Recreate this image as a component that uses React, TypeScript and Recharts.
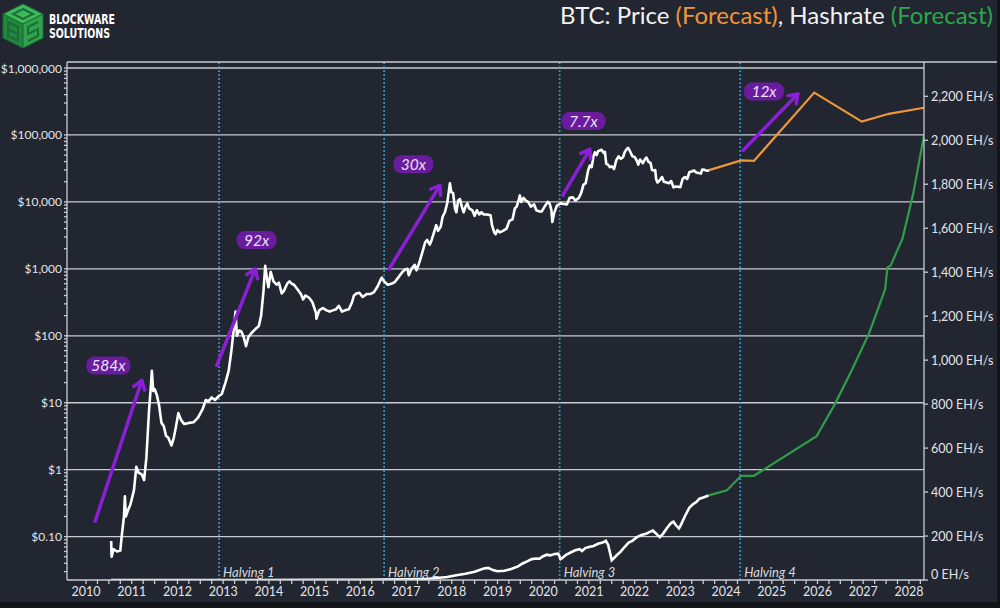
import React from "react";
import {
  ComposedChart,
  Line,
  XAxis,
  YAxis,
  ReferenceLine,
  ReferenceDot,
} from "recharts";

// BTC price history (year, USD)
const priceHistory: [number, number][] = [
  [2010.55, 0.086], [2010.56, 0.05], [2010.6, 0.065], [2010.68, 0.06], [2010.75, 0.062],
  [2010.78, 0.1], [2010.83, 0.2], [2010.85, 0.4], [2010.87, 0.2], [2010.92, 0.25],
  [2010.97, 0.3], [2011.05, 0.5], [2011.1, 1.1], [2011.15, 0.9], [2011.22, 0.85],
  [2011.27, 0.7], [2011.32, 1.5], [2011.38, 8], [2011.42, 18], [2011.44, 30],
  [2011.47, 15], [2011.5, 16], [2011.55, 13], [2011.6, 9], [2011.65, 5],
  [2011.7, 4.5], [2011.75, 3.2], [2011.8, 3], [2011.87, 2.3], [2011.92, 3],
  [2011.97, 4.5], [2012.02, 7], [2012.08, 5.5], [2012.15, 4.8], [2012.25, 5],
  [2012.35, 5.1], [2012.45, 6], [2012.55, 8], [2012.62, 11], [2012.68, 10.5],
  [2012.75, 12], [2012.82, 11], [2012.9, 12.5], [2012.97, 13.5], [2013.05, 20],
  [2013.12, 30], [2013.18, 60], [2013.24, 140], [2013.27, 230], [2013.3, 100],
  [2013.35, 120], [2013.4, 115], [2013.45, 95], [2013.5, 70], [2013.55, 95],
  [2013.62, 110], [2013.7, 125], [2013.78, 140], [2013.83, 200], [2013.88, 450],
  [2013.92, 1110], [2013.96, 700], [2013.99, 530], [2014.04, 900], [2014.1, 650],
  [2014.17, 580], [2014.22, 620], [2014.28, 430], [2014.33, 470], [2014.4, 600],
  [2014.45, 650], [2014.5, 600], [2014.55, 580], [2014.62, 500], [2014.7, 420],
  [2014.75, 350], [2014.8, 400], [2014.88, 370], [2014.95, 320], [2015.03, 220],
  [2015.04, 180], [2015.1, 240], [2015.18, 260], [2015.26, 240], [2015.33, 230],
  [2015.4, 240], [2015.47, 250], [2015.53, 280], [2015.6, 230], [2015.67, 240],
  [2015.75, 250], [2015.82, 320], [2015.86, 400], [2015.92, 430], [2015.98, 440],
  [2016.05, 380], [2016.14, 420], [2016.22, 420], [2016.3, 450], [2016.38, 550],
  [2016.45, 700], [2016.47, 740], [2016.52, 650], [2016.6, 580], [2016.68, 600],
  [2016.75, 630], [2016.83, 740], [2016.92, 900], [2016.98, 980], [2017.03, 1000],
  [2017.06, 800], [2017.12, 1000], [2017.19, 1150], [2017.23, 950], [2017.3, 1300],
  [2017.36, 1800], [2017.42, 2500], [2017.46, 2700], [2017.52, 2300], [2017.56, 2700],
  [2017.6, 3300], [2017.66, 4500], [2017.7, 3700], [2017.76, 4300], [2017.8, 6000],
  [2017.85, 7000], [2017.9, 9500], [2017.94, 15000], [2017.96, 19000], [2017.99, 14000],
  [2018.03, 13500], [2018.07, 8000], [2018.1, 7000], [2018.14, 10500], [2018.18, 11000],
  [2018.22, 8500], [2018.26, 7000], [2018.3, 8500], [2018.34, 9500], [2018.38, 8000],
  [2018.45, 7500], [2018.5, 6200], [2018.55, 7500], [2018.6, 6500], [2018.65, 7000],
  [2018.7, 6500], [2018.77, 6500], [2018.85, 6300], [2018.88, 4500], [2018.93, 3500],
  [2018.96, 3300], [2019.0, 3800], [2019.05, 3500], [2019.12, 3700], [2019.2, 4000],
  [2019.26, 5200], [2019.33, 5500], [2019.38, 8000], [2019.42, 8500], [2019.47, 11000],
  [2019.49, 12500], [2019.52, 10000], [2019.57, 11500], [2019.62, 10500], [2019.67, 10000],
  [2019.73, 8500], [2019.8, 9200], [2019.85, 7500], [2019.92, 7200], [2019.97, 7200],
  [2020.03, 8500], [2020.1, 10000], [2020.14, 9500], [2020.18, 7500], [2020.2, 5000],
  [2020.24, 6800], [2020.3, 8800], [2020.38, 9500], [2020.45, 9300], [2020.52, 9200],
  [2020.58, 11500], [2020.65, 11700], [2020.7, 10500], [2020.78, 11500], [2020.83, 13500],
  [2020.88, 18000], [2020.93, 19000], [2020.98, 29000], [2021.02, 35000], [2021.06, 33000],
  [2021.1, 48000], [2021.13, 55000], [2021.17, 50000], [2021.2, 57000], [2021.28, 60000],
  [2021.32, 54000], [2021.35, 56000], [2021.38, 37000], [2021.42, 36000], [2021.46, 33000],
  [2021.5, 34000], [2021.55, 31000], [2021.6, 42000], [2021.65, 48000], [2021.7, 44000],
  [2021.75, 47000], [2021.78, 55000], [2021.83, 62000], [2021.86, 64000], [2021.9, 57000],
  [2021.95, 48000], [2022.0, 47000], [2022.05, 41000], [2022.08, 36000], [2022.12, 43000],
  [2022.18, 38000], [2022.23, 44000], [2022.26, 46000], [2022.3, 40000], [2022.35, 38000],
  [2022.38, 30000], [2022.42, 29500], [2022.45, 30000], [2022.47, 22000], [2022.5, 19500],
  [2022.55, 21000], [2022.6, 23500], [2022.64, 20000], [2022.7, 19500], [2022.75, 19000],
  [2022.8, 20500], [2022.85, 16500], [2022.9, 17000], [2022.95, 16800], [2023.0, 16600],
  [2023.05, 22000], [2023.1, 23500], [2023.15, 22000], [2023.2, 28000], [2023.25, 28500],
  [2023.3, 29500], [2023.35, 27500], [2023.4, 27000], [2023.45, 26500], [2023.48, 30500],
  [2023.52, 30300], [2023.56, 29500], [2023.6, 29200], [2023.63, 29800],
];

const priceForecast: [number, number][] = [
  [2023.63, 29800], [2024.33, 41600], [2024.61, 41000], [2025.93, 430000],
  [2026.97, 158500], [2027.56, 207000], [2028.33, 255000],
];

// Hashrate history (year, EH/s)
const hashHistory: [number, number][] = [
  [2010.55, 0], [2013.0, 0.02], [2015.0, 0.35], [2016.0, 0.8], [2016.5, 1.5],
  [2017.0, 2.8], [2017.5, 6], [2017.9, 14], [2018.1, 22], [2018.3, 28],
  [2018.5, 38], [2018.7, 52], [2018.8, 55], [2018.9, 45], [2019.0, 40],
  [2019.15, 42], [2019.3, 50], [2019.45, 62], [2019.55, 75], [2019.65, 85],
  [2019.75, 95], [2019.85, 98], [2019.92, 97], [2020.0, 108], [2020.08, 115],
  [2020.15, 112], [2020.25, 118], [2020.33, 120], [2020.38, 95], [2020.42, 100],
  [2020.5, 115], [2020.6, 125], [2020.7, 135], [2020.8, 140], [2020.85, 132],
  [2020.92, 145], [2021.0, 150], [2021.1, 155], [2021.2, 165], [2021.3, 170],
  [2021.37, 178], [2021.42, 160], [2021.5, 90], [2021.55, 100], [2021.62, 115],
  [2021.7, 130], [2021.78, 150], [2021.87, 170], [2021.95, 178], [2022.05, 195],
  [2022.15, 205], [2022.25, 210], [2022.32, 218], [2022.4, 225], [2022.45, 215],
  [2022.5, 205], [2022.55, 195], [2022.62, 210], [2022.72, 240], [2022.8, 260],
  [2022.85, 265], [2022.9, 250], [2022.97, 235], [2023.0, 245], [2023.1, 290],
  [2023.2, 330], [2023.28, 345], [2023.35, 355], [2023.42, 370], [2023.5, 375],
  [2023.56, 380], [2023.62, 385],
];

const hashForecast: [number, number][] = [
  [2023.62, 385], [2024.02, 408], [2024.33, 474], [2024.61, 474], [2025.98, 654],
  [2026.38, 800], [2026.75, 954], [2027.13, 1123], [2027.48, 1322], [2027.53, 1422],
  [2027.6, 1430], [2027.86, 1553], [2028.09, 1753], [2028.33, 2022],
];

const halvingYears = [2012.91, 2016.52, 2020.36, 2024.31];
const halvingLabels = ["Halving 1", "Halving 2", "Halving 3", "Halving 4"];

// cycle run-up annotations
const moveLabels = ["584x", "92x", "30x", "7.7x", "12x"];
const moveFrom: [number, number][] = [
  [2010.2, 0.17], [2012.86, 36], [2016.63, 994], [2020.43, 12600], [2024.37, 58700],
];
const moveTo: [number, number][] = [
  [2011.22, 21.5], [2013.7, 994], [2017.74, 17700], [2021.02, 61000], [2025.57, 410000],
];
const moveLabelAt: [number, number][] = [
  [2010.49, 36], [2013.73, 2690], [2017.16, 36500], [2020.88, 161000], [2024.83, 445000],
];

const yearTicks = [
  2010, 2011, 2012, 2013, 2014, 2015, 2016, 2017, 2018, 2019,
  2020, 2021, 2022, 2023, 2024, 2025, 2026, 2027, 2028,
];
const priceTicks = [0.1, 1, 10, 100, 1000, 10000, 100000, 1000000];
const hashTicks = [0, 200, 400, 600, 800, 1000, 1200, 1400, 1600, 1800, 2000, 2200];

const X_DOMAIN = [2009.584, 2028.33];
const PRICE_DOMAIN = [0.0225, 1230000];
const HASH_DOMAIN = [0, 2356];

const BG = "#222630";
const AXIS = "#c9ccd2";
const TICK_TEXT = "#e2e4e8";
const PURPLE = "#8b1fd8";
const FONT = "Lato, 'Noto Sans', sans-serif";

const toRows = (pts: [number, number][]) => pts.map(([x, v]) => ({ x, v }));

// minor log ticks / quarter ticks (unlabelled)
const priceMinor: number[] = [];
[0.01, 0.1, 1, 10, 100, 1000, 10000, 100000].forEach((d) => {
  for (let m = 2; m <= 9; m++) {
    const v = d * m;
    if (v > PRICE_DOMAIN[0] && v < PRICE_DOMAIN[1]) priceMinor.push(v);
  }
});
const yearMinor: number[] = [];
yearTicks.forEach((y) => {
  [0.25, 0.5, 0.75].forEach((q) => {
    if (y + q < X_DOMAIN[1]) yearMinor.push(y + q);
  });
});

const fmtPrice = (v: number) =>
  v < 1 ? `$${v.toFixed(2)}` : `$${Math.round(v).toLocaleString("en-US")}`;

const PriceTick = (props: any) => {
  const { x, y, payload } = props;
  if (!priceTicks.includes(payload.value)) return <g />;
  return (
    <text x={x} y={y} dy={4.5} textAnchor="end" fill={TICK_TEXT} fontSize={12} fontFamily={FONT}>
      {fmtPrice(payload.value)}
    </text>
  );
};

const HashTick = (props: any) => {
  const { x, y, payload } = props;
  const shift = payload.value === 0 ? -6 : 0;
  return (
    <text x={x} y={y + shift} dy={4.5} textAnchor="start" fill={TICK_TEXT} fontSize={12.5} fontFamily={FONT}>
      {`${payload.value.toLocaleString("en-US")} EH/s`}
    </text>
  );
};

const YearTick = (props: any) => {
  const { x, y, payload } = props;
  if (!Number.isInteger(payload.value)) return <g />;
  return (
    <text x={x} y={y} dy={10} textAnchor="middle" fill={TICK_TEXT} fontSize={12.5} fontFamily={FONT}>
      {payload.value}
    </text>
  );
};

const ArrowShape = (p: any) => {
  const { x1, y1, x2, y2 } = p;
  const a = Math.atan2(y2 - y1, x2 - x1);
  const len = 10;
  const s = 0.62;
  const ax = x2 - len * Math.cos(a - s);
  const ay = y2 - len * Math.sin(a - s);
  const bx = x2 - len * Math.cos(a + s);
  const by = y2 - len * Math.sin(a + s);
  return (
    <g>
      <line x1={x1} y1={y1} x2={x2} y2={y2} stroke={PURPLE} strokeWidth={3.5} strokeLinecap="round" />
      <polyline
        points={`${ax},${ay} ${x2},${y2} ${bx},${by}`}
        fill="none"
        stroke={PURPLE}
        strokeWidth={3.5}
        strokeLinecap="round"
        strokeLinejoin="round"
      />
    </g>
  );
};

const makeBadge = (text: string) => (p: any) => {
  const w = text.length > 3 ? 44 : 40;
  return (
    <g>
      <rect x={p.cx - w / 2} y={p.cy - 9} width={w} height={18} rx={8} fill="#6a1c9e" />
      <text
        x={p.cx}
        y={p.cy + 5.5}
        textAnchor="middle"
        fill="#ece0f7"
        fontSize={15.5}
        fontStyle="italic"
        fontFamily={FONT}
      >
        {text}
      </text>
    </g>
  );
};

const makeHalving = (label: string) => (p: any) => {
  const bottom = Math.max(p.y1, p.y2);
  return (
    <g>
      <line
        x1={p.x1}
        y1={p.y1}
        x2={p.x2}
        y2={p.y2}
        stroke="#2fa3dc"
        strokeWidth={1.7}
        strokeDasharray="1.7 2.3"
      />
      <text x={p.x1 + 4} y={bottom - 3} fill="#d8dade" fontSize={13} fontStyle="italic" fontFamily={FONT}>
        {label}
      </text>
    </g>
  );
};

const LOGO_FONT = "'DejaVu Sans Condensed', 'DejaVu Sans', sans-serif";

const Logo = () => (
  <g>
    <polygon points="23,4 43,14 23,24 3,14" fill="#3dbb5c" stroke="#1d6b34" strokeWidth={1} />
    <polygon points="3,14 23,24 23,48 3,38" fill="#22873e" stroke="#1d6b34" strokeWidth={1} />
    <polygon points="23,24 43,14 43,38 23,48" fill="#2fa24c" stroke="#1d6b34" strokeWidth={1} />
    <polygon points="23,9 33,14 23,19 13,14" fill="none" stroke="#1d6b34" strokeWidth={2} />
    <path d="M8,22 L18,27 L18,41 L8,36 Z M8,29 L18,34" fill="none" stroke="#1d6b34" strokeWidth={2} />
    <path d="M38,22 L28,27 L28,34 L38,29 L38,36 L28,41" fill="none" stroke="#1d6b34" strokeWidth={2} />
    <text
      x={49}
      y={24}
      fill="#ffffff"
      fontSize={14}
      fontWeight="bold"
      fontFamily={LOGO_FONT}
      textLength={66}
      lengthAdjust="spacingAndGlyphs"
    >
      BLOCKWARE
    </text>
    <text
      x={49}
      y={38}
      fill="#ffffff"
      fontSize={14}
      fontWeight="bold"
      fontFamily={LOGO_FONT}
      textLength={61}
      lengthAdjust="spacingAndGlyphs"
    >
      SOLUTIONS
    </text>
  </g>
);

const App = () => {
  return (
    <div
      style={{
        position: "absolute",
        left: 0,
        top: 0,
        width: 1000,
        height: 608,
        background: BG,
        overflow: "hidden",
      }}
    >
      <ComposedChart width={1000} height={608} margin={{ top: 62, right: 0, bottom: 0, left: 0 }}>
        <XAxis
          dataKey="x"
          type="number"
          domain={X_DOMAIN}
          allowDataOverflow
          ticks={[...yearTicks, ...yearMinor]}
          interval={0}
          height={28}
          tickSize={4}
          tickMargin={2}
          stroke={AXIS}
          strokeWidth={1.3}
          tick={YearTick}
        />
        <YAxis
          yAxisId="price"
          orientation="left"
          scale="log"
          domain={PRICE_DOMAIN}
          allowDataOverflow
          ticks={[...priceTicks, ...priceMinor]}
          interval={0}
          width={67}
          tickSize={3}
          tickMargin={2}
          stroke={AXIS}
          strokeWidth={1.3}
          tick={PriceTick}
        />
        <YAxis
          yAxisId="hash"
          orientation="right"
          type="number"
          domain={HASH_DOMAIN}
          allowDataOverflow
          ticks={hashTicks}
          interval={0}
          width={76}
          tickSize={4}
          tickMargin={3}
          stroke={AXIS}
          strokeWidth={1.3}
          tick={HashTick}
        />

        {priceTicks.map((t) => (
          <ReferenceLine key={`g${t}`} yAxisId="price" y={t} stroke={AXIS} strokeWidth={1.3} />
        ))}

        {halvingYears.map((h, i) => (
          <ReferenceLine
            key={`h${i}`}
            yAxisId="price"
            x={h}
            stroke="#2fa3dc"
            shape={makeHalving(halvingLabels[i])}
          />
        ))}

        <Line
          yAxisId="hash"
          data={toRows(hashHistory)}
          dataKey="v"
          stroke="#ffffff"
          strokeWidth={2.6}
          dot={false}
          isAnimationActive={false}
        />
        <Line
          yAxisId="hash"
          data={toRows(hashForecast)}
          dataKey="v"
          stroke="#2e9e48"
          strokeWidth={2.2}
          dot={false}
          isAnimationActive={false}
        />
        <Line
          yAxisId="price"
          data={toRows(priceHistory)}
          dataKey="v"
          stroke="#ffffff"
          strokeWidth={2.6}
          strokeLinejoin="round"
          dot={false}
          isAnimationActive={false}
        />
        <Line
          yAxisId="price"
          data={toRows(priceForecast)}
          dataKey="v"
          stroke="#f0963a"
          strokeWidth={2.2}
          dot={false}
          isAnimationActive={false}
        />

        {moveLabels.map((m, i) => (
          <ReferenceLine
            key={`a${i}`}
            yAxisId="price"
            segment={[
              { x: moveFrom[i][0], y: moveFrom[i][1] },
              { x: moveTo[i][0], y: moveTo[i][1] },
            ]}
            stroke={PURPLE}
            shape={ArrowShape}
          />
        ))}
        {moveLabels.map((m, i) => (
          <ReferenceDot
            key={`b${i}`}
            yAxisId="price"
            x={moveLabelAt[i][0]}
            y={moveLabelAt[i][1]}
            r={10}
            shape={makeBadge(m)}
          />
        ))}
      </ComposedChart>

      <svg
        width={1000}
        height={608}
        style={{ position: "absolute", left: 0, top: 0, pointerEvents: "none" }}
      >
        <Logo />
        <text x={993} y={24} textAnchor="end" fontSize={24} fontFamily={FONT} fill="#f2f2f2">
          BTC: Price <tspan fill="#f0963a">(Forecast)</tspan>, Hashrate{" "}
          <tspan fill="#2aa84a">(Forecast)</tspan>
        </text>
        <line x1={67} y1={62} x2={1000} y2={62} stroke={AXIS} strokeWidth={1.3} />
        <rect x={0} y={602} width={1000} height={6} fill="#121418" />
        <rect x={997} y={0} width={3} height={608} fill="#121418" />
      </svg>
    </div>
  );
};

export default App;
